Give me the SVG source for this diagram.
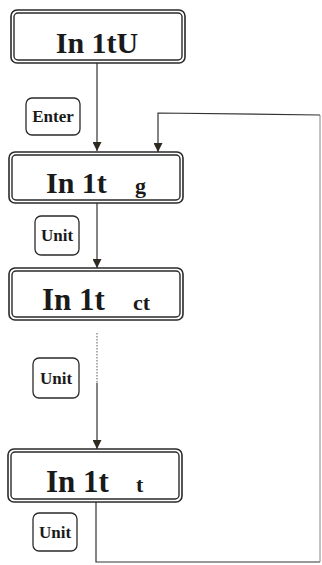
<svg xmlns="http://www.w3.org/2000/svg" width="322" height="565" viewBox="0 0 322 565">
<style>
.outer{fill:none;stroke:#2a2a2a;stroke-width:1.6}
.inner{fill:#fff;stroke:#2a2a2a;stroke-width:1.4}
.key{fill:#fff;stroke:#2a2a2a;stroke-width:1.3}
.big{font-family:"Liberation Serif",serif;font-weight:bold;fill:#1a1a1a}
.small{font-family:"Liberation Serif",serif;font-weight:bold;fill:#1a1a1a}
.ln{fill:none;stroke:#333;stroke-width:1.2}
</style>
<defs>
<marker id="ah" viewBox="0 0 10 10" refX="10" refY="5" markerWidth="9" markerHeight="9" markerUnits="userSpaceOnUse" orient="auto">
<path d="M0,0 L10,5 L0,10 Z" fill="#2e2a20"/>
</marker>
</defs>
<rect width="322" height="565" fill="#fff"/>
<g id="connectors">
<line class="ln" x1="97" y1="63" x2="97" y2="151" marker-end="url(#ah)"/>
<polyline class="ln" points="320,562 96,562 96,502"/>
<polyline points="320,562 320,115" fill="none" stroke="#888" stroke-width="1"/>
<polyline class="ln" points="320,115 158,113 158,152" marker-end="url(#ah)"/>
<line class="ln" x1="97" y1="203" x2="97" y2="268" marker-end="url(#ah)"/>
<line x1="97" y1="333" x2="97" y2="383" stroke="#777" stroke-width="1.2" stroke-dasharray="1.5,1.5"/>
<line class="ln" x1="97" y1="383" x2="97" y2="449" marker-end="url(#ah)"/>
</g>
<g id="node1">
<rect class="outer" x="11" y="10" width="174" height="53" rx="6"/>
<rect class="inner" x="14" y="13" width="168" height="47" rx="4"/>
<text class="big" x="97" y="53" font-size="30" text-anchor="middle">In 1tU</text>
</g>
<g id="key-enter">
<rect class="key" x="26" y="98" width="54" height="37" rx="6"/>
<text class="small" x="53" y="122" font-size="17" text-anchor="middle">Enter</text>
</g>
<g id="node2">
<rect class="outer" x="9" y="152" width="174" height="51" rx="6"/>
<rect class="inner" x="12" y="155" width="168" height="45" rx="4"/>
<text class="big" x="46" y="193" font-size="30">In 1t</text>
<text class="small" x="135" y="193" font-size="22">g</text>
</g>
<g id="key-unit1">
<rect class="key" x="35" y="216" width="44" height="39" rx="6"/>
<text class="small" x="57" y="241" font-size="17" text-anchor="middle">Unit</text>
</g>
<g id="node3">
<rect class="outer" x="9" y="268" width="174" height="52" rx="6"/>
<rect class="inner" x="12" y="271" width="168" height="46" rx="4"/>
<text class="big" x="42" y="310" font-size="31">In 1t</text>
<text class="small" x="133" y="310" font-size="22">ct</text>
</g>
<g id="key-unit2">
<rect class="key" x="33" y="358" width="46" height="40" rx="6"/>
<text class="small" x="56" y="384" font-size="17" text-anchor="middle">Unit</text>
</g>
<g id="node4">
<rect class="outer" x="8" y="449" width="174" height="53" rx="6"/>
<rect class="inner" x="11" y="452" width="168" height="47" rx="4"/>
<text class="big" x="46" y="492" font-size="31">In 1t</text>
<text class="small" x="136" y="492" font-size="22">t</text>
</g>
<g id="key-unit3">
<rect class="key" x="33" y="513" width="44" height="38" rx="6"/>
<text class="small" x="55" y="538" font-size="17" text-anchor="middle">Unit</text>
</g>
</svg>
